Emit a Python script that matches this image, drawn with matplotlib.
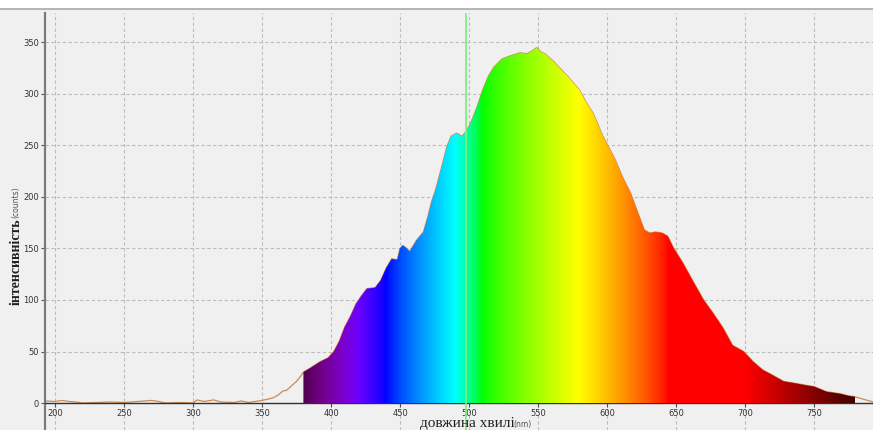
import numpy as np
import matplotlib
matplotlib.use("Agg")
import matplotlib.pyplot as plt
from matplotlib.patches import Polygon, Rectangle

# measured spectrum: wavelength (nm) and intensity (counts)
wavelength = [193, 200, 205, 210, 215, 220, 230, 240, 250, 260, 270, 275, 280, 290,
              300, 303, 308, 315, 320, 330, 335, 340, 345, 350, 355, 358, 362, 365,
              368, 372, 375, 378, 380, 385, 392, 398, 402, 406, 410, 414, 418, 422,
              426, 432, 436, 440, 444, 448, 450, 452, 455, 457, 462, 467, 470, 473,
              476, 479, 484, 487, 491, 495, 498, 501, 506, 510, 514, 518, 524, 530,
              537, 542, 546, 549, 552, 555, 561, 568, 573, 576, 580, 584, 590, 597,
              601, 606, 611, 617, 622, 627, 631, 635, 640, 644, 648, 655, 662, 670,
              677, 684, 691, 699, 706, 713, 720, 728, 737, 745, 750, 759, 769, 775,
              780, 785, 793]
counts = [2, 1.5, 2.5, 1.5, 1, 0, 0.5, 1, 0.5, 1.5, 2.5, 1.5, 0, 0.5,
          0, 3, 1.5, 3, 1, 0.5, 2, 0.5, 1.5, 2.5, 4, 5, 8, 11.5,
          12.5, 17.5, 21, 26, 30, 34, 40, 44, 50, 60, 74, 84, 96, 104,
          111, 112, 119, 131, 140, 139, 150, 153, 150, 147, 158, 166, 180, 196,
          208, 223, 249, 259, 262, 259, 264, 271, 288, 304, 317, 326, 334, 337,
          340, 339, 342, 345, 341, 339, 332, 322, 315, 310, 304, 294, 281, 259,
          249, 236, 220, 204, 186, 168, 165, 166, 165, 162, 151, 136, 119, 100,
          87, 73, 56, 50, 40, 32, 27, 21, 19, 17, 16, 11, 9, 7,
          6, 4, 1]

visible = (380, 780)
marker_nm = 498
xticks = list(range(200, 751, 50))
yticks = list(range(0, 351, 50))


def wavelength_to_rgb(w):
    if w < 440:
        r, g, b = -(w - 440) / 60.0, 0.0, 1.0
    elif w < 490:
        r, g, b = 0.0, (w - 440) / 50.0, 1.0
    elif w < 510:
        r, g, b = 0.0, 1.0, -(w - 510) / 20.0
    elif w < 580:
        r, g, b = (w - 510) / 70.0, 1.0, 0.0
    elif w < 645:
        r, g, b = 1.0, -(w - 645) / 65.0, 0.0
    else:
        r, g, b = 1.0, 0.0, 0.0
    if w < 420:
        f = 0.3 + 0.7 * (w - 380) / 40.0
    elif w > 700:
        f = 0.25 + 0.75 * (780 - w) / 80.0
    else:
        f = 1.0
    return [f * c ** 0.8 for c in (r, g, b)]


W, H = 873, 430
fig = plt.figure(figsize=(W / 100, H / 100), dpi=100)
fig.patch.set_facecolor("#f0f0f0")
fig.patches.append(Rectangle((0, 1 - 9 / H), 1, 9 / H, transform=fig.transFigure,
                             facecolor="white", edgecolor="none", zorder=-2))
fig.lines.append(plt.Line2D([0, 1], [1 - 9 / H, 1 - 9 / H], transform=fig.transFigure,
                            color="#a8a8a8", lw=1.2, zorder=-1))

ax = fig.add_axes([45 / W, 0, 828 / W, 417 / H])
ax.set_facecolor("#f0f0f0")
ax.set_xlim(192.75, 792.75)
ax.set_ylim(-26.2, 378.6)

for s in ("top", "right"):
    ax.spines[s].set_visible(False)
ax.spines["left"].set_color("#7a7a7a")
ax.spines["left"].set_linewidth(1.6)
ax.spines["bottom"].set_position(("data", 0))
ax.spines["bottom"].set_color("#303030")
ax.spines["bottom"].set_linewidth(1.0)

ax.set_xticks(xticks)
ax.set_yticks(yticks)
ax.tick_params(axis="both", labelsize=6, colors="#555555", labelcolor="#333333",
               length=3, width=0.8, pad=1.5)

grid_kw = dict(color="#bcbcbc", lw=0.8, ls=(0, (3, 2.2)), zorder=1)
for x in xticks:
    ax.axvline(x, **grid_kw)
for y in yticks[1:]:
    ax.axhline(y, **grid_kw)

# raw trace
ax.plot(wavelength, counts, color="#cc8a52", lw=0.9, zorder=2)

# rainbow fill under the visible part of the spectrum
wl = np.array(wavelength, dtype=float)
ct = np.array(counts, dtype=float)
sel = (wl >= visible[0]) & (wl <= visible[1])
verts = [(visible[0], 0)] + list(zip(wl[sel], ct[sel])) + [(visible[1], 0)]
shape = Polygon(verts, closed=True, facecolor="none", edgecolor="none")
ax.add_patch(shape)
grid = np.arange(visible[0], visible[1] + 0.5, 0.5)
rgb = np.array([wavelength_to_rgb(w) for w in grid])[None, :, :]
im = ax.imshow(rgb, extent=[visible[0], visible[1], 0, 380], aspect="auto",
               interpolation="bilinear", zorder=3)
im.set_clip_path(shape)

ax.axvline(marker_nm, color="#80f080", lw=1.3, zorder=4)

# axis titles
fig.text(16 / W, 1 - 262 / H, "інтенсивність", rotation=90, ha="center", va="center",
         family="Liberation Serif", fontsize=10, weight="bold", color="#202020")
fig.text(16 / W, 1 - 202 / H, "(counts)", rotation=90, ha="center", va="center",
         fontsize=5.5, color="#555555")
fig.text(467 / W, 1 - 424 / H, "довжина хвилі", ha="center", va="center",
         family="Liberation Serif", fontsize=11, color="#202020")
fig.text(523 / W, 1 - 424.5 / H, "(nm)", ha="center", va="center",
         fontsize=5.5, color="#555555")

fig.savefig("out.png", dpi=100, facecolor=fig.get_facecolor())
